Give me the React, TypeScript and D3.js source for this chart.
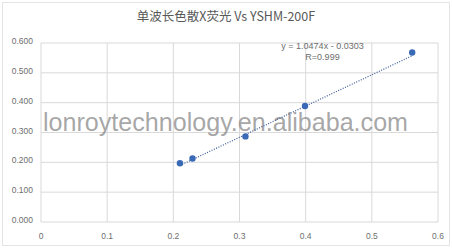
import React from "react";
import * as d3 from "d3";

const xValues = [0.21, 0.229, 0.309, 0.399, 0.561];
const yValues = [0.197, 0.213, 0.287, 0.389, 0.568];
const xTicks = [0, 0.1, 0.2, 0.3, 0.4, 0.5, 0.6];
const yTicks = [0, 0.1, 0.2, 0.3, 0.4, 0.5, 0.6];
const slope = 1.0474;
const intercept = -0.0303;
const title = "单波长色散X荧光 Vs YSHM-200F";
const eqText = "y = 1.0474x - 0.0303";
const rText = "R=0.999";
const watermark = "lonroytechnology.en.alibaba.com";

export default function App() {
  const W = 452, H = 249;
  const x = d3.scaleLinear().domain([0, 0.6]).range([41, 438]);
  const y = d3.scaleLinear().domain([0, 0.6]).range([222, 43]);
  const xMin = d3.min(xValues)!, xMax = d3.max(xValues)!;
  const font = "'Liberation Sans', Arial, sans-serif";
  return (
    <svg width={W} height={H} style={{ position: "absolute", left: 0, top: 0, background: "#fff" }}>
      <rect x={2.5} y={2.5} width={W - 5} height={H - 6} fill="#fff" stroke="#e4e4e4" />
      {yTicks.map((t) => (
        <line key={"gy" + t} x1={x(0)} x2={x(0.6)} y1={y(t)} y2={y(t)} stroke="#d9d9d9" strokeWidth={1} />
      ))}
      {xTicks.map((t) => (
        <line key={"gx" + t} x1={x(t)} x2={x(t)} y1={y(0)} y2={y(0.6)} stroke="#d9d9d9" strokeWidth={1} />
      ))}
      {yTicks.map((t) => (
        <text key={"ly" + t} x={33} y={y(t) + 1} textAnchor="end" fontSize={8.5} fill="#6e6e6e" fontFamily={font}>
          {d3.format(".3f")(t)}
        </text>
      ))}
      {xTicks.map((t) => (
        <text key={"lx" + t} x={x(t)} y={239} textAnchor="middle" fontSize={8.5} fill="#6e6e6e" fontFamily={font}>
          {t === 0 ? "0" : d3.format(".1f")(t)}
        </text>
      ))}
      <text x={226} y={21} textAnchor="middle" fontSize={12.5} fill="#595959" fontFamily={"'Noto Sans CJK SC', 'Liberation Sans', sans-serif"}>
        {title}
      </text>
      <text x={43} y={131} fontSize={25} fill="#8a8a8a" fillOpacity={0.75} fontFamily={font} textLength={365} lengthAdjust="spacingAndGlyphs">
        {watermark}
      </text>
      <line
        x1={x(xMin)} y1={y(slope * xMin + intercept)}
        x2={x(xMax)} y2={y(slope * xMax + intercept)}
        stroke="#3b5998" strokeWidth={1.2} strokeDasharray="1 1.5"
      />
      {xValues.map((v, i) => (
        <circle key={"p" + i} cx={x(v)} cy={y(yValues[i])} r={3.2} fill="#3a6ab5" />
      ))}
      <text x={322.5} y={48.5} textAnchor="middle" fontSize={9} fill="#6e6e6e" fontFamily={font}>{eqText}</text>
      <text x={322.5} y={59.5} textAnchor="middle" fontSize={9} fill="#6e6e6e" fontFamily={font}>{rText}</text>
    </svg>
  );
}
